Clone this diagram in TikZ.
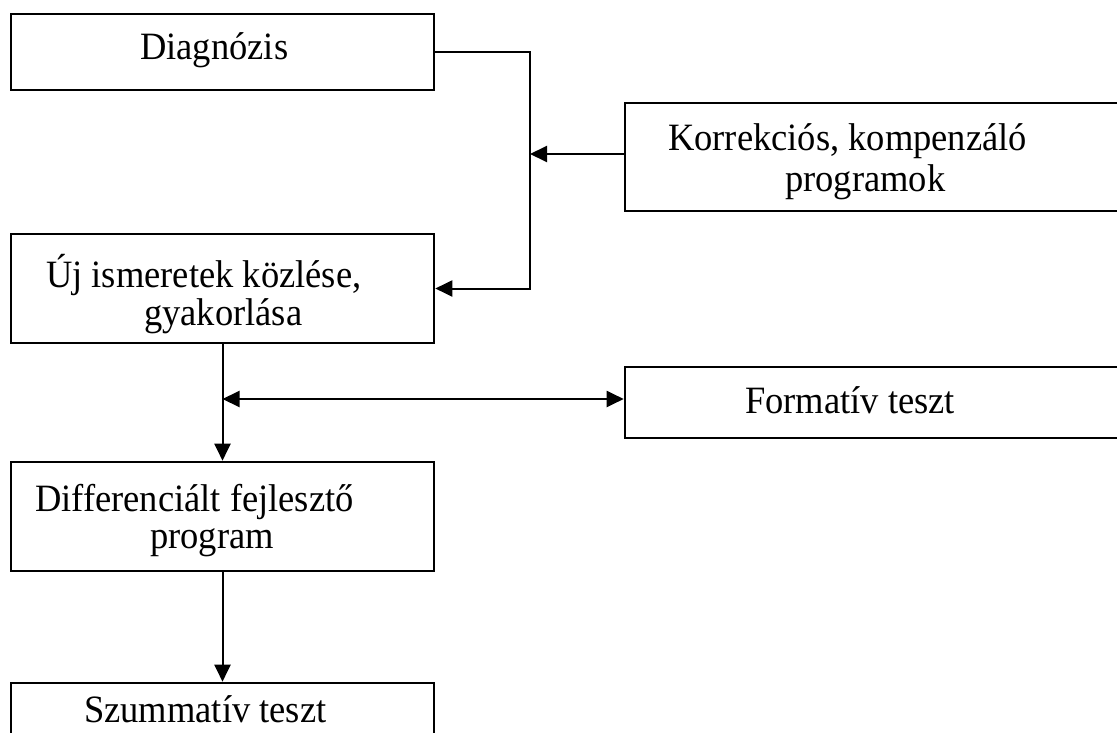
\documentclass[tikz,border=0pt]{standalone}
\usepackage{fontspec}
\setmainfont{Liberation Serif}
\usetikzlibrary{arrows.meta}
\newcommand{\tallt}[1]{\scalebox{1}[1.06]{#1}}
\begin{document}
\begin{tikzpicture}[x=1pt,y=1pt,
  box/.style={draw,line width=2.6pt,rectangle,inner sep=0pt},
  txt/.style={anchor=base west,inner sep=0pt,font=\fontsize{36.5}{38}\selectfont},
  conn/.style={line width=2pt},
  tip/.style={-{Triangle[length=17pt,width=16pt]}},
  dtip/.style={{Triangle[length=17pt,width=16pt]}-{Triangle[length=17pt,width=16pt]}}]
\useasboundingbox[fill=white] (0,0) rectangle (1117,-733);
% boxes
\node[box,minimum width=423pt,minimum height=76pt]  (diag) at (222.5,-52) {};
\node[box,minimum width=497pt,minimum height=108pt] (korr) at (873.5,-157) {};
\node[box,minimum width=423pt,minimum height=109pt] (uj)   at (222.5,-288.5) {};
\node[box,minimum width=497pt,minimum height=71pt]  (form) at (873.5,-402.5) {};
\node[box,minimum width=423pt,minimum height=109pt] (diff) at (222.5,-516.5) {};
\node[box,minimum width=423pt,minimum height=62pt]  (szum) at (222.5,-714) {};
% texts
\node[txt] (diagT)  at (140,-60)  {\tallt{Diagnózis}};
\node[txt] (korrT1) at (668,-151) {\tallt{Korrekciós, kompenzáló}};
\node[txt] (korrT2) at (785,-192) {\tallt{programok}};
\node[txt] (ujT1)   at (46,-287)  {\tallt{Új ismeretek közlése,}};
\node[txt] (ujT2)   at (144,-325) {\tallt{gyakorlása}};
\node[txt] (formT)  at (745,-413) {\tallt{Formatív teszt}};
\node[txt] (diffT1) at (35,-511)  {\tallt{Differenciált fejlesztő}};
\node[txt] (diffT2) at (150,-548) {\tallt{program}};
\node[txt] (szumT)  at (84,-722)  {\tallt{Szummatív teszt}};
% connectors
\coordinate (c1) at (530,-288.5);
\coordinate (c2) at (530,-154);
\coordinate (c3) at (222.5,-399);
\draw[conn,tip] (diag.east) -| (c1) -- (uj.east);
\draw[conn,tip] (korr.west |- c2) -- (c2);
\draw[conn,tip] (uj.south) -- (diff.north);
\draw[conn,dtip] (c3) -- (c3 -| form.west);
\draw[conn,tip] (diff.south) -- (szum.north);
\end{tikzpicture}
\end{document}
